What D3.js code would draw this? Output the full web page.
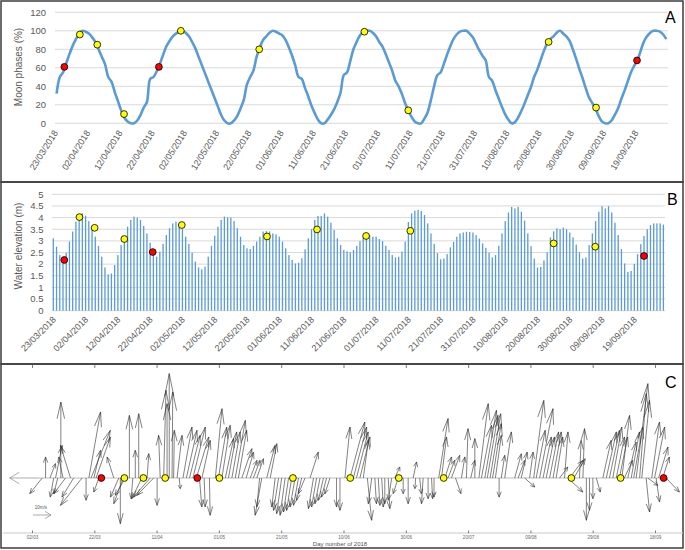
<!DOCTYPE html>
<html><head><meta charset="utf-8">
<script src="https://cdn.jsdelivr.net/npm/d3@7"></script>
<style>body{margin:0;background:#fff}svg{display:block}</style>
</head><body>
<svg id="chart" width="685" height="550"></svg>
<script>
// ---------- DATA ----------
const dayCount = 190; // 23/03/2018 .. 28/09/2018
const dateTickDays = [0,10,20,30,40,50,60,70,80,90,100,110,120,130,140,150,160,170,180];
const dateTickLabels = ["23/03/2018","02/04/2018","12/04/2018","22/04/2018","02/05/2018","12/05/2018","22/05/2018","01/06/2018","11/06/2018","21/06/2018","01/07/2018","11/07/2018","21/07/2018","31/07/2018","10/08/2018","20/08/2018","30/08/2018","09/09/2018","19/09/2018"];

const moonPhase = [
32,50,55,65,75,84,91,97,100,99,
97,93,88,80,72,64,50,45,34,24,
14,6,2,0,0,3,9,17,23,48,
50,56,64,74,83,89,94,97,99,100,
98,94,88,81,72,63,54,45,36,27,
18,9,3,0,0,3,8,16,25,42,
50,57,72,82,90,94,98,100,99,97,
95,90,82,73,62,50,48,38,29,19,
11,4,0,0,4,9,15,23,33,52,
55,67,80,88,95,99,100,100,98,94,
88,83,75,66,57,46,40,32,22,14,
7,2,0,0,5,12,25,40,52,55,
64,74,83,91,96,99,100,100,97,93,
86,79,73,68,50,46,36,27,18,10,
4,0,1,6,13,21,30,39,50,58,
68,78,86,91,94,98,100,97,94,89,
80,70,59,49,38,28,22,16,8,2,
0,0,3,9,16,26,35,45,55,62,
68,78,88,94,98,100,100,99,96,91];
const moonTicks = [0,20,40,60,80,100,120];
const moonDotDays = [2.4,7.2,12.6,20.9,31.7,38.5,62.8,95.4,109,152.5,167.2,179.9];
const moonDotValues = [61,96,85,10,61,100,80,99,14,88,17,68];
const moonDotKinds = ["r","y","y","y","r","y","y","y","y","y","y","r"];

const waterElevation = [
3.11,2.75,2.39,2.22,2.49,2.97,3.40,3.83,4.11,4.18,
4.08,3.85,3.61,3.18,2.78,2.32,1.86,1.56,1.60,1.96,
2.39,2.82,3.20,3.61,3.90,4.04,4.00,3.90,3.64,3.32,
2.92,2.61,2.32,2.54,2.87,3.25,3.54,3.75,3.83,3.75,
3.50,3.18,2.87,2.49,2.11,1.86,1.78,1.89,2.32,2.79,
3.22,3.61,3.90,4.04,4.01,4.00,3.85,3.54,3.18,2.82,
2.68,2.65,2.78,2.97,3.18,3.40,3.42,3.40,3.32,3.28,
3.18,2.97,2.68,2.39,2.18,2.03,2.06,2.25,2.64,3.11,
3.50,3.90,4.07,4.07,4.18,4.04,3.78,3.47,3.11,2.82,
2.61,2.55,2.51,2.61,2.79,2.99,3.15,3.25,3.25,3.18,
3.18,3.08,2.99,2.79,2.61,2.39,2.29,2.32,2.54,2.97,
3.81,4.18,4.30,4.33,4.28,4.11,3.75,3.32,2.87,2.47,
2.21,2.24,2.43,2.72,2.96,3.18,3.32,3.36,3.39,3.38,
3.36,3.25,3.10,2.89,2.70,2.49,2.29,2.39,2.79,3.32,
3.85,4.22,4.46,4.39,4.46,4.25,3.87,3.32,2.77,2.24,
1.85,1.88,2.16,2.51,3.15,3.41,3.54,3.50,3.57,3.50,
3.36,3.15,2.84,2.51,2.24,2.29,2.82,3.32,3.85,4.25,
4.49,4.39,4.49,4.22,3.78,3.25,2.65,2.03,1.67,1.71,
2.01,2.43,2.86,3.21,3.50,3.68,3.75,3.75,3.75,3.70];
const waterTicks = [0,0.5,1,1.5,2,2.5,3,3.5,4,4.5,5];
const waterDotDays = [3.4,8.1,12.8,22.0,30.8,39.8,66.2,81.7,96.9,110.6,155.0,167.9,183.0];
const waterDotValues = [2.18,4.02,3.56,3.08,2.52,3.68,3.19,3.49,3.21,3.43,2.89,2.75,2.35];
const waterDotKinds = ["r","y","y","y","r","y","y","y","y","y","y","y","r"];

// Panel C: wind vectors (day of year 2018, u east m/s, v north m/s)
const windDay = [63.0,64.1,65.2,66.6,67.8,68.4,69.1,70.1,70.8,71.6,73.2,74.2,76.9,78.2,79.1,79.8,80.7,81.4,82.3,87.1,88.7,89.2,90.1,90.8,92.1,93.2,94.0,95.1,96.1,97.8,98.8,99.9,101.0,102.0,103.1,104.2,104.9,105.8,106.3,107.4,108.1,109.3,110.4,111.4,112.5,113.6,114.6,115.4,116.1,117.8,119.7,120.7,121.8,122.9,123.9,125.0,126.1,127.1,128.2,129.6,130.9,131.9,133.0,133.9,134.6,136.2,137.3,138.9,140.0,141.0,142.1,143.2,144.2,145.3,146.4,147.4,148.5,150.1,151.2,152.2,153.3,154.4,155.4,156.5,158.6,159.7,161.3,
162.9,164.0,165.0,166.1,167.2,168.5,169.9,170.9,172.0,173.1,174.1,175.2,176.3,177.3,178.4,180.0,181.6,183.2,184.0,185.3,186.4,188.0,189.1,189.9,191.4,192.3,193.4,194.4,195.5,196.8,198.7,200.3,201.7,203.0,204.3,205.1,206.2,207.0,207.9,208.7,209.6,210.8,211.5,212.6,215.8,216.9,217.9,219.0,220.6,221.9,222.7,223.8,224.9,225.9,227.0,228.1,229.1,230.2,231.8,232.9,233.4,234.8,236.6,237.7,238.8,239.8,240.9,242.0,244.1,245.2,246.2,247.3,248.4,249.4,250.2,251.0,252.1,253.2,254.0,254.8,255.9,256.6,258.0,258.5,259.8,260.7,261.2,262.0,263.3,264.4];
const windU = [-16.1,-6.9,0,3.1,-1.9,3.7,-2.2,0,-2.4,-6.5,
-5.6,-6.5,-12.0,0,6.5,10.7,3.7,8.0,-2.8,-3.7,
-4.6,0,-5.2,-5.6,0,-0.9,0,0,-5.6,0.9,
-9.3,-9.3,0,-0.9,1.3,0,0,0.4,0.4,2.8,
0.6,5.0,5.9,5.9,6.9,6.9,1.3,4.6,0.6,0.4,
3.7,4.6,4.6,4.6,4.6,4.6,5.6,4.6,5.6,4.1,
3.7,3.7,3.7,-1.5,-3.7,4.6,3.7,-1.9,-2.8,-2.8,
-2.8,-2.8,-2.8,-2.8,-2.8,-2.8,-3.7,4.6,-2.8,-2.8,
-2.8,-2.8,-2.8,-2.8,0,0,2.8,
8.3,7.4,6.5,5.6,2.8,2.4,-1.9,0.9,0.9,0.9,
0,0.9,-1.9,2.8,-2.8,0,0,1.9,-0.4,0.9,
-0.9,0,0.6,0,5.2,2.8,3.7,3.7,4.6,3.0,
1.9,0.9,2.2,0,5.2,5.6,6.5,5.9,5.9,4.8,
3.3,0,1.9,3.7,3.7,3.7,3.3,5.6,1.9,5.6,
5.0,7.4,4.6,4.6,5.0,4.6,3.7,4.6,1.9,8.3,
7.4,6.3,0.9,0.9,0,0,0,2.2,4.6,5.6,
5.6,5.0,4.6,4.6,4.3,4.6,4.6,4.6,5.0,6.5,
3.7,4.3,1.9,5.6,4.3,5.6,1.9,5.2,3.7,7.4];
const windV = [0,-8.7,11.7,8.0,-10.6,18.1,-8.7,42.2,11.7,-8.7,
18.1,-10.6,-15.2,-12.4,36.7,26.5,15.4,22.8,-7.8,11.7,
-10.6,-25.4,-14.3,-9.6,34.8,-11.5,15.4,35.7,-11.5,13.5,
-10.6,-9.6,-15.2,23.7,48.7,41.3,58.0,47.8,26.5,23.7,
-5.9,28.3,26.5,23.7,28.3,22.8,-16.1,20.9,-16.1,-20.7,
38.5,28.3,29.3,21.9,25.6,25.6,32.0,26.5,16.3,14.4,
9.8,9.8,10.7,-16.1,-20.7,18.1,19.1,-16.1,-18.0,-19.8,
-20.7,-18.9,-18.0,-16.1,-15.2,-12.4,-8.7,14.4,-17.0,-16.1,
-14.3,-12.4,-10.6,-8.7,-16.1,-18.0,28.3,
31.1,28.3,25.6,22.8,20.9,-23.5,-14.3,-14.3,-15.2,-16.1,
-14.3,-17.0,-12.4,6.1,-8.7,-8.7,-14.3,8.9,-5.9,-8.7,
-14.3,-11.5,-11.5,-10.6,33.0,22.8,11.7,9.8,12.6,-8.7,
11.7,27.4,9.8,21.9,41.3,29.3,37.6,34.8,35.7,30.2,
23.7,-10.6,12.6,25.6,13.5,9.8,14.4,-5.0,14.4,43.1,
26.5,38.5,22.8,22.8,25.6,25.6,22.8,6.1,25.6,-7.8,
9.8,10.7,20.9,27.4,-23.5,-18.0,-11.5,-7.8,20.9,25.6,
26.5,28.3,22.8,22.8,34.8,9.8,20.0,25.6,28.3,52.4,
46.9,43.1,-18.9,-4.1,31.1,28.3,-13.3,17.2,11.7,-7.8];
const windTickDays = [61,81,101,121,141,161,181,201,221,241,261];
const windTickLabels = ["02/03","22/03","11/04","01/05","21/05","10/06","30/06","20/07","09/08","29/08","18/09"];
const windDotDays = [83.1,90.5,96.6,103.6,113.9,121.0,144.6,163.0,178.6,193.0,234.0,249.8,263.6];
const windDotKinds = ["r","y","y","y","r","y","y","y","y","y","y","y","r"];
const windScaleSpeed = 10;

// ---------- DRAW ----------
const svg = d3.select("#chart");
const FONT = "'Liberation Sans', Arial, sans-serif";
const TXT = "#595959", GRID = "#d9d9d9", BLUE = "#5b9bd5";
const dotFill = k => k === "r" ? "#ff0000" : "#ffff00";

// frames
[[1,1,682,181],[1,182,682,182],[1,364,682,184]].forEach(r => {
  svg.append("rect").attr("x", r[0]).attr("y", r[1]).attr("width", r[2]).attr("height", r[3])
    .attr("fill", "none").attr("stroke", "#3c3c3c").attr("stroke-width", 1.5);
});

// ===== Panel A =====
const xA = d3.scaleLinear().domain([-0.5, dayCount - 0.5]).range([55, 668]);
const yA = d3.scaleLinear().domain([0, 120]).range([123.3, 12.3]);
const gA = svg.append("g");
gA.selectAll(".grid").data(moonTicks).join("line")
  .attr("x1", 55).attr("x2", 668).attr("y1", d => yA(d)).attr("y2", d => yA(d))
  .attr("stroke", GRID).attr("stroke-width", 1);
gA.selectAll(".yl").data(moonTicks).join("text")
  .attr("x", 46).attr("y", d => yA(d)).attr("dy", "0.35em").attr("text-anchor", "end")
  .attr("font-family", FONT).attr("font-size", 9.5).attr("fill", TXT).text(d => d);
gA.selectAll(".xl").data(dateTickDays).join("text")
  .attr("transform", d => `translate(${xA(d) - 1},131) rotate(-58)`)
  .attr("text-anchor", "end").attr("dy", "0.35em")
  .attr("font-family", FONT).attr("font-size", 9).attr("fill", TXT)
  .text((d, i) => dateTickLabels[i]);
gA.append("text").attr("transform", "translate(22,67) rotate(-90)").attr("text-anchor", "middle")
  .attr("font-family", FONT).attr("font-size", 10).attr("fill", TXT).text("Moon phases (%)");
gA.append("path").datum(moonPhase)
  .attr("d", d3.line().x((d, i) => xA(i)).y(d => yA(d)).curve(d3.curveCatmullRom.alpha(0.5)))
  .attr("fill", "none").attr("stroke", BLUE).attr("stroke-width", 2.6).attr("stroke-linejoin", "round");
gA.selectAll(".dot").data(moonDotDays).join("circle")
  .attr("cx", d => xA(d)).attr("cy", (d, i) => yA(moonDotValues[i])).attr("r", 3.4)
  .attr("fill", (d, i) => dotFill(moonDotKinds[i])).attr("stroke", "#000").attr("stroke-width", 0.8);
svg.append("text").attr("x", 665).attr("y", 23).attr("font-family", FONT).attr("font-size", 16).attr("fill", "#000").text("A");

// ===== Panel B =====
const xB = d3.scaleLinear().domain([-0.5, dayCount - 0.5]).range([51.7, 665]);
const yB = d3.scaleLinear().domain([0, 5]).range([310.7, 194.3]);
const gB = svg.append("g");
gB.selectAll(".grid").data(waterTicks).join("line")
  .attr("x1", 51.7).attr("x2", 665).attr("y1", d => yB(d)).attr("y2", d => yB(d))
  .attr("stroke", GRID).attr("stroke-width", 1);
gB.selectAll(".yl").data(waterTicks).join("text")
  .attr("x", 43.5).attr("y", d => yB(d)).attr("dy", "0.35em").attr("text-anchor", "end")
  .attr("font-family", FONT).attr("font-size", 9.5).attr("fill", TXT).text(d => d);
gB.selectAll(".bar").data(waterElevation).join("rect")
  .attr("x", (d, i) => xB(i) - 0.65).attr("width", 1.3)
  .attr("y", d => yB(d)).attr("height", d => yB(0) - yB(d)).attr("fill", BLUE);
gB.selectAll(".xl").data(dateTickDays).join("text")
  .attr("transform", d => `translate(${xB(d) + 1},318) rotate(-45)`)
  .attr("text-anchor", "end").attr("dy", "0.35em")
  .attr("font-family", FONT).attr("font-size", 9).attr("fill", TXT)
  .text((d, i) => dateTickLabels[i]);
gB.append("text").attr("transform", "translate(22,246) rotate(-90)").attr("text-anchor", "middle")
  .attr("font-family", FONT).attr("font-size", 10).attr("fill", TXT).text("Water elevation (m)");
gB.selectAll(".dot").data(waterDotDays).join("circle")
  .attr("cx", d => xB(d)).attr("cy", (d, i) => yB(waterDotValues[i])).attr("r", 3.4)
  .attr("fill", (d, i) => dotFill(waterDotKinds[i])).attr("stroke", "#000").attr("stroke-width", 0.8);
svg.append("text").attr("x", 667).attr("y", 205).attr("font-family", FONT).attr("font-size", 16).attr("fill", "#000").text("B");

// ===== Panel C =====
const xC = d3.scaleLinear().domain([61, 261]).range([32.5, 655.5]);
const yC = d3.scaleLinear().domain([-30, 60]).range([478 + 54, 478 - 108]);
const kpx = yC(0) - yC(1);
const gC = svg.append("g");
gC.append("line").attr("x1", 3).attr("x2", 683).attr("y1", 533).attr("y2", 533).attr("stroke", "#c8c8c8").attr("stroke-width", 1);
gC.selectAll(".tb").data(windTickDays).join("line")
  .attr("x1", d => xC(d)).attr("x2", d => xC(d)).attr("y1", 533).attr("y2", 530.5).attr("stroke", "#444").attr("stroke-width", 0.7);
gC.selectAll(".tt").data(windTickDays).join("line")
  .attr("x1", d => xC(d)).attr("x2", d => xC(d)).attr("y1", 365).attr("y2", 368).attr("stroke", "#444").attr("stroke-width", 0.7);
gC.selectAll(".tl").data(windTickDays).join("text")
  .attr("x", d => xC(d)).attr("y", 538.5).attr("text-anchor", "middle")
  .attr("font-family", FONT).attr("font-size", 4.6).attr("fill", "#666").text((d, i) => windTickLabels[i]);
gC.append("text").attr("x", 340).attr("y", 546).attr("text-anchor", "middle")
  .attr("font-family", FONT).attr("font-size", 6).attr("fill", "#555").text("Day number of 2018");
// baseline
gC.append("line").attr("x1", xC(windDay[0])).attr("x2", xC(windDay[windDay.length - 1]) + 2)
  .attr("y1", yC(0)).attr("y2", yC(0)).attr("stroke", "#a0a0a0").attr("stroke-width", 0.7);

function arrowPath(x0, y0, x1, y1, big) {
  const L = Math.hypot(x1 - x0, y1 - y0);
  if (L < 0.5) return "";
  const ux = (x1 - x0) / L, uy = (y1 - y0) / L;
  const hl = big ? 0.33 * L : 0.2 * L + 1.5, hw = big ? 0.2 * L : 0.028 * L + 1.6;
  const bx = x1 - ux * hl, by = y1 - uy * hl;
  return `M${x0},${y0}L${x1},${y1}M${bx - uy * hw},${by + ux * hw}L${x1},${y1}L${bx + uy * hw},${by - ux * hw}`;
}
gC.selectAll(".arr").data(windDay).join("path")
  .attr("d", (d, i) => arrowPath(xC(d), yC(0), xC(d) + windU[i] * kpx, yC(windV[i]), i === 0))
  .attr("fill", "none").attr("stroke", (d, i) => i === 0 ? "#777" : "#2e2e2e").attr("stroke-width", 0.6);
// scale arrow
gC.append("path").attr("d", arrowPath(33, 515, 33 + windScaleSpeed * kpx, 515, true))
  .attr("fill", "none").attr("stroke", "#888").attr("stroke-width", 0.7);
gC.append("text").attr("x", 41).attr("y", 509).attr("text-anchor", "middle")
  .attr("font-family", FONT).attr("font-size", 4.5).attr("fill", "#555").text(windScaleSpeed + "m/s");
gC.selectAll(".dot").data(windDotDays).join("circle")
  .attr("cx", d => xC(d)).attr("cy", yC(0)).attr("r", 3.4)
  .attr("fill", (d, i) => dotFill(windDotKinds[i])).attr("stroke", "#000").attr("stroke-width", 0.8);
svg.append("text").attr("x", 665).attr("y", 388).attr("font-family", FONT).attr("font-size", 16).attr("fill", "#000").text("C");
</script>
</body></html>
